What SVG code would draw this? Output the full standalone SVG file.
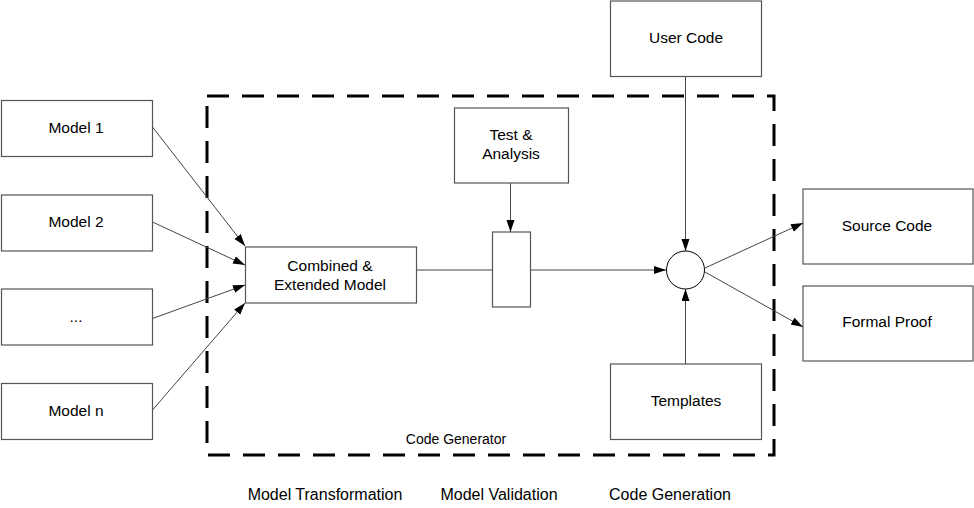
<svg xmlns="http://www.w3.org/2000/svg" width="974" height="508" viewBox="0 0 974 508">
<style>
.box{fill:#fff;stroke:#555;stroke-width:1.2}
.t{font-family:"Liberation Sans",Arial,sans-serif;font-size:15.5px;fill:#000;text-anchor:middle}
.lbl{font-family:"Liberation Sans",Arial,sans-serif;font-size:16px;fill:#000;text-anchor:middle}
.c{fill:none;stroke:#444;stroke-width:1}
.dash{fill:none;stroke:#000;stroke-width:3;stroke-dasharray:22 13}
</style>
<defs>
<marker id="arr" markerUnits="userSpaceOnUse" markerWidth="13" markerHeight="9" refX="12" refY="4" orient="auto">
<path d="M0,0 L12,4 L0,8 Z" fill="#000"/>
</marker>
</defs>
<rect width="974" height="508" fill="#fff"/>
<g id="code-generator-boundary">
<rect class="dash" x="207" y="96" width="567" height="359"/>
<text class="t" x="456" y="444" style="font-size:14px">Code Generator</text>
</g>
<g id="connectors">
<line class="c" x1="152.5" y1="127" x2="245" y2="246" marker-end="url(#arr)"/>
<line class="c" x1="152.5" y1="222" x2="245" y2="265" marker-end="url(#arr)"/>
<line class="c" x1="152.5" y1="318.5" x2="245" y2="285" marker-end="url(#arr)"/>
<line class="c" x1="152.5" y1="410" x2="245" y2="303" marker-end="url(#arr)"/>
<line class="c" x1="416" y1="270" x2="492" y2="270"/>
<line class="c" x1="530" y1="270" x2="666" y2="270" marker-end="url(#arr)"/>
<line class="c" x1="510.5" y1="183" x2="510.5" y2="232" marker-end="url(#arr)"/>
<line class="c" x1="685.5" y1="76" x2="685.5" y2="251" marker-end="url(#arr)"/>
<line class="c" x1="685.5" y1="364" x2="685.5" y2="289" marker-end="url(#arr)"/>
<line class="c" x1="705" y1="268" x2="803" y2="223" marker-end="url(#arr)"/>
<line class="c" x1="705" y1="272" x2="803" y2="327" marker-end="url(#arr)"/>
</g>
<g id="model1"><rect class="box" x="1.5" y="100.5" width="151" height="56"/><text class="t" x="76" y="133">Model 1</text></g>
<g id="model2"><rect class="box" x="1.5" y="195" width="151" height="56"/><text class="t" x="76" y="227">Model 2</text></g>
<g id="model-dots"><rect class="box" x="1.5" y="289" width="151" height="56"/><text class="t" x="76" y="322">...</text></g>
<g id="modeln"><rect class="box" x="1.5" y="383.5" width="151" height="56"/><text class="t" x="76" y="416">Model n</text></g>
<g id="combined"><rect class="box" x="245.5" y="247" width="171" height="56"/><text class="t" x="330" y="271">Combined &amp;</text><text class="t" x="330" y="290">Extended Model</text></g>
<g id="test-analysis"><rect class="box" x="454.5" y="108" width="114" height="75"/><text class="t" x="511" y="140">Test &amp;</text><text class="t" x="511" y="159">Analysis</text></g>
<g id="validator"><rect class="box" x="492.5" y="232" width="38" height="75"/></g>
<g id="user-code"><rect class="box" x="610.5" y="1" width="151" height="75.5"/><text class="t" x="686" y="43">User Code</text></g>
<g id="merge"><circle cx="685.5" cy="270" r="19" fill="#fff" stroke="#000" stroke-width="1"/></g>
<g id="templates"><rect class="box" x="610.5" y="364" width="151" height="75.5"/><text class="t" x="686" y="406">Templates</text></g>
<g id="source-code"><rect class="box" x="803" y="189" width="170" height="75"/><text class="t" x="887" y="231">Source Code</text></g>
<g id="formal-proof"><rect class="box" x="803" y="286" width="170" height="75"/><text class="t" x="887" y="327">Formal Proof</text></g>
<g id="phases">
<text class="lbl" x="325" y="500">Model Transformation</text>
<text class="lbl" x="499" y="500">Model Validation</text>
<text class="lbl" x="670" y="500">Code Generation</text>
</g>
</svg>
